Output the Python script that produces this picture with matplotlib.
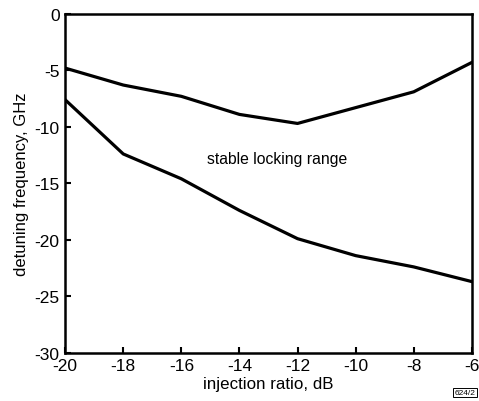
import matplotlib
matplotlib.use("Agg")
import matplotlib.pyplot as plt

plt.rcParams['font.family'] = ['Liberation Sans', 'DejaVu Sans']

# injection ratio (dB) and locking range boundaries (GHz)
injection_db = [-20, -18, -16, -14, -12, -10, -8, -6]
upper_ghz = [-4.8, -6.3, -7.3, -8.9, -9.7, -8.3, -6.9, -4.3]
lower_ghz = [-7.6, -12.4, -14.6, -17.4, -19.9, -21.4, -22.4, -23.7]

xticks = [-20, -18, -16, -14, -12, -10, -8, -6]
yticks = [0, -5, -10, -15, -20, -25, -30]

fig = plt.figure(figsize=(4.79, 4.02), dpi=100)
ax = fig.add_axes([0.136, 0.12, 0.849, 0.843])

ax.plot(injection_db, upper_ghz, color='black', lw=2.3)
ax.plot(injection_db, lower_ghz, color='black', lw=2.3)

ax.text(-12.7, -12.8, 'stable locking range', fontsize=11.3, ha='center', va='center')

ax.set_xlim(-20, -6)
ax.set_ylim(-30, 0)
ax.set_xticks(xticks)
ax.set_yticks(yticks)
ax.set_xticklabels([str(t) for t in xticks])
ax.set_yticklabels([str(t) for t in yticks])
ax.tick_params(direction='in', length=4, width=1.5, labelsize=12.5, pad=4)

for s in ax.spines.values():
    s.set_linewidth(1.8)

ax.set_xlabel('injection ratio, dB', fontsize=12.2, labelpad=2)
ax.set_ylabel('detuning frequency, GHz', fontsize=12, labelpad=4)

fig.text(0.971, 0.021, '624/2', fontsize=6, ha='center', va='center',
         bbox=dict(boxstyle='square,pad=0.15', fc='white', ec='black', lw=0.7))

fig.savefig('out.png', dpi=100)
